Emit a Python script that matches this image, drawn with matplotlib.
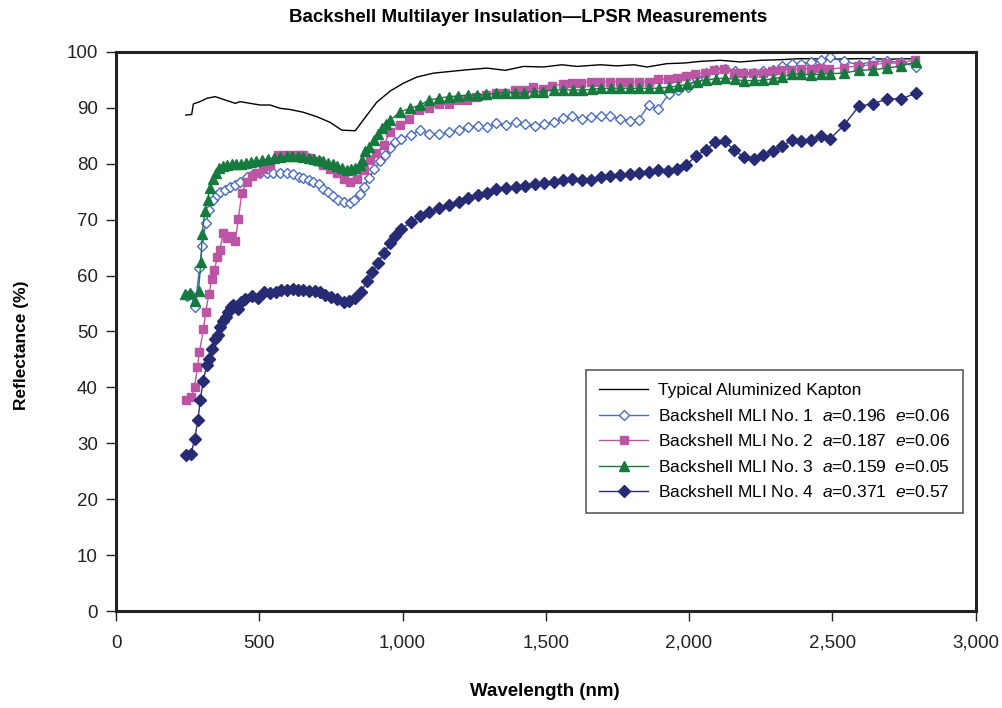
#!/usr/bin/env python
# -*- coding: utf-8 -*-
import matplotlib
matplotlib.use("Agg")
import matplotlib.pyplot as plt
from matplotlib.ticker import FuncFormatter

plt.rcParams['font.family'] = ['Liberation Sans Narrow', 'DejaVu Sans Condensed',
                               'Liberation Sans', 'DejaVu Sans']
plt.rcParams['mathtext.fontset'] = 'custom'
plt.rcParams['mathtext.it'] = 'Liberation Sans:italic'
plt.rcParams['mathtext.rm'] = 'Liberation Sans'

# Typical aluminized Kapton (black line)
kapton_wl = [244, 264, 270, 293, 317, 346, 375, 416, 433, 468, 503, 538, 573, 608,
             654, 701, 747, 788, 835, 876, 910, 957, 1003, 1050, 1108, 1166, 1225,
             1295, 1359, 1422, 1492, 1556, 1609, 1690, 1748, 1807, 1853, 1923, 1981,
             2040, 2109, 2179, 2249, 2319, 2389, 2500, 2600, 2700, 2792]
kapton_r = [88.7, 88.8, 90.7, 91.1, 91.7, 92.0, 91.5, 90.8, 91.1, 90.8, 90.5, 90.5,
            89.9, 89.7, 89.2, 88.4, 87.4, 86.0, 85.9, 88.7, 91.0, 93.0, 94.4, 95.5,
            96.2, 96.5, 96.8, 97.1, 96.7, 97.4, 97.3, 97.7, 97.4, 97.7, 97.5, 97.7,
            97.3, 97.9, 98.0, 98.3, 98.5, 98.2, 98.5, 98.6, 98.8, 98.7, 98.8, 98.7, 98.8]

# Backshell MLI No. 1 (blue open diamonds)
mli1_wl = [247, 258, 276, 291, 301, 313, 326, 338, 352, 363, 381, 398, 416, 433,
           456, 479, 503, 526, 549, 573, 596, 619, 637, 654, 672, 689, 707, 724,
           741, 759, 776, 794, 815, 832, 850, 866, 884, 901, 920, 939, 957, 974,
           994, 1029, 1062, 1094, 1129, 1162, 1196, 1228, 1262, 1295, 1327, 1361,
           1395, 1426, 1461, 1494, 1527, 1560, 1593, 1626, 1659, 1693, 1725, 1760,
           1793, 1825, 1859, 1892, 1929, 1962, 1995, 2028, 2060, 2094, 2127, 2159,
           2193, 2226, 2258, 2292, 2325, 2360, 2391, 2426, 2459, 2491, 2540, 2593,
           2641, 2692, 2741, 2792]
mli1_r = [56.4, 56.7, 54.4, 61.3, 65.2, 69.4, 71.7, 73.5, 74.4, 75.0, 75.3, 75.8,
          76.2, 76.8, 77.7, 78.1, 78.4, 78.4, 78.4, 78.4, 78.3, 78.1, 77.7, 77.4,
          77.1, 76.8, 76.3, 75.4, 75.0, 74.2, 73.6, 73.2, 72.9, 73.6, 74.6, 75.9,
          77.5, 79.0, 80.4, 81.6, 82.8, 83.8, 84.4, 85.2, 86.0, 85.4, 85.3, 85.6,
          86.0, 86.5, 86.8, 86.5, 87.2, 86.9, 87.4, 87.1, 86.8, 87.1, 87.4, 88.1,
          88.6, 88.0, 88.3, 88.6, 88.6, 88.0, 87.7, 87.9, 90.5, 89.7, 92.5, 93.1,
          93.8, 95.2, 96.2, 96.8, 97.0, 96.5, 96.3, 96.3, 96.5, 96.8, 97.4, 97.9,
          97.9, 98.2, 98.6, 99.0, 98.3, 97.7, 98.3, 98.3, 98.2, 97.3]

# Backshell MLI No. 2 (magenta squares)
mli2_wl = [244, 262, 274, 284, 291, 305, 313, 324, 334, 343, 354, 363, 373, 387,
           401, 416, 427, 439, 456, 474, 493, 514, 538, 567, 590, 614, 637, 654,
           678, 701, 724, 747, 771, 794, 817, 841, 864, 887, 908, 934, 957, 990,
           1024, 1056, 1091, 1126, 1161, 1192, 1225, 1257, 1292, 1326, 1359, 1391,
           1425, 1457, 1490, 1523, 1559, 1591, 1624, 1658, 1690, 1725, 1758, 1792,
           1826, 1859, 1892, 1925, 1958, 1990, 2022, 2055, 2088, 2121, 2156, 2189,
           2222, 2257, 2290, 2321, 2357, 2391, 2424, 2456, 2490, 2540, 2590, 2639,
           2689, 2738, 2789]
mli2_r = [37.7, 38.3, 40.0, 43.6, 46.3, 50.4, 53.5, 56.7, 59.3, 61.0, 63.3, 64.6,
          67.6, 66.7, 67.0, 66.1, 70.2, 74.7, 76.8, 77.8, 78.4, 79.0, 79.8, 81.6,
          81.6, 81.6, 81.6, 81.6, 81.0, 80.4, 79.8, 79.0, 78.3, 77.2, 76.8, 77.2,
          78.9, 80.6, 81.9, 83.3, 85.7, 86.9, 88.0, 89.6, 89.9, 90.6, 90.6, 91.4,
          91.4, 91.9, 92.3, 92.7, 92.7, 93.1, 93.1, 93.7, 93.3, 93.9, 94.3, 94.4,
          94.5, 94.7, 94.7, 94.7, 94.7, 94.7, 94.7, 94.7, 95.1, 95.1, 95.4, 95.6,
          96.0, 96.3, 96.7, 96.9, 96.3, 96.2, 96.2, 96.3, 96.6, 96.8, 96.8, 97.0,
          97.0, 97.2, 96.9, 97.2, 97.5, 97.7, 98.0, 98.0, 98.6]

# Backshell MLI No. 3 (green triangles)
mli3_wl = [241, 258, 276, 288, 296, 301, 310, 320, 328, 338, 349, 361, 375, 389,
           404, 420, 437, 455, 470, 490, 510, 530, 550, 573, 595, 615, 635, 654,
           672, 690, 707, 724, 741, 756, 771, 790, 806, 820, 835, 850, 858, 870,
           884, 899, 914, 928, 943, 957, 992, 1027, 1062, 1093, 1126, 1161, 1192,
           1227, 1260, 1292, 1326, 1359, 1393, 1425, 1460, 1492, 1527, 1559, 1594,
           1626, 1661, 1693, 1727, 1760, 1795, 1827, 1861, 1894, 1929, 1962, 1993,
           2028, 2060, 2094, 2127, 2159, 2193, 2226, 2258, 2292, 2325, 2360, 2391,
           2426, 2459, 2491, 2540, 2593, 2641, 2692, 2741, 2792]
mli3_r = [56.7, 56.8, 55.4, 57.3, 62.5, 67.4, 71.6, 73.6, 75.6, 77.2, 78.4, 79.2,
          79.6, 79.8, 79.9, 80.0, 80.0, 80.2, 80.3, 80.5, 80.6, 80.8, 81.0, 81.2,
          81.3, 81.3, 81.3, 81.2, 81.0, 80.8, 80.6, 80.4, 80.1, 79.9, 79.6, 79.2,
          78.9, 79.0, 79.3, 79.8, 80.6, 82.2, 83.0, 84.3, 85.3, 86.3, 87.1, 87.8,
          89.3, 89.9, 90.5, 91.4, 91.7, 92.0, 92.1, 92.3, 92.3, 92.4, 92.6, 92.7,
          92.7, 92.7, 92.9, 92.9, 93.2, 93.2, 93.2, 93.2, 93.3, 93.5, 93.5, 93.5,
          93.5, 93.5, 93.5, 93.5, 93.7, 93.9, 94.2, 94.7, 95.0, 95.2, 95.3, 95.1,
          94.8, 94.9, 94.9, 95.2, 95.5, 96.0, 96.0, 95.9, 96.0, 96.1, 96.2, 96.7,
          96.8, 97.1, 97.5, 98.2]

# Backshell MLI No. 4 (navy diamonds)
mli4_wl = [243, 262, 274, 286, 294, 304, 317, 324, 334, 347, 355, 363, 375, 383,
           392, 402, 410, 425, 437, 451, 474, 497, 518, 538, 559, 576, 596, 616,
           635, 654, 673, 693, 712, 731, 751, 771, 794, 814, 835, 855, 876, 895,
           914, 935, 957, 974, 994, 1029, 1062, 1094, 1129, 1162, 1196, 1228, 1262,
           1295, 1327, 1361, 1395, 1426, 1461, 1494, 1527, 1560, 1593, 1626, 1659,
           1693, 1725, 1760, 1793, 1825, 1859, 1892, 1925, 1958, 1991, 2024, 2059,
           2092, 2124, 2158, 2191, 2225, 2258, 2292, 2326, 2360, 2391, 2425, 2459,
           2491, 2541, 2593, 2641, 2692, 2741, 2792]
mli4_r = [27.9, 28.1, 30.7, 34.2, 37.7, 41.1, 44.0, 45.0, 46.9, 48.7, 49.4, 50.8,
          51.9, 52.5, 53.4, 54.3, 54.7, 54.0, 55.3, 55.8, 56.4, 56.0, 57.1, 56.9,
          57.1, 57.4, 57.4, 57.6, 57.5, 57.4, 57.2, 57.3, 57.0, 56.6, 56.2, 55.8,
          55.2, 55.5, 55.9, 57.0, 59.0, 60.6, 62.2, 64.0, 65.8, 67.1, 68.3, 69.5,
          70.6, 71.3, 72.0, 72.6, 73.2, 73.8, 74.4, 74.8, 75.4, 75.7, 75.9, 76.1,
          76.3, 76.5, 76.8, 77.0, 77.3, 77.1, 77.0, 77.6, 77.8, 77.9, 78.1, 78.4,
          78.6, 78.8, 78.7, 79.1, 79.8, 81.4, 82.5, 83.8, 84.0, 82.4, 81.2, 80.9,
          81.5, 82.3, 83.1, 84.3, 84.1, 84.3, 84.9, 84.4, 86.9, 90.3, 90.7, 91.6,
          91.6, 92.6]

labels = ["Typical Aluminized Kapton",
          r"Backshell MLI No. 1  $a$=0.196  $e$=0.06",
          r"Backshell MLI No. 2  $a$=0.187  $e$=0.06",
          r"Backshell MLI No. 3  $a$=0.159  $e$=0.05",
          r"Backshell MLI No. 4  $a$=0.371  $e$=0.57"]

fig = plt.figure(figsize=(10.02, 7.08), dpi=100, facecolor="white")
ax = fig.add_axes([0.1158, 0.137, 0.8578, 0.7897])

ax.plot(kapton_wl, kapton_r, color='black', linewidth=1.0, label=labels[0])
ax.plot(mli1_wl, mli1_r, color='#4A6CC0', linewidth=1.0, marker='D', markersize=5.5,
        markerfacecolor='white', markeredgecolor='#4A6CC0', markeredgewidth=1.0,
        label=labels[1])
ax.plot(mli2_wl, mli2_r, color='#BC55A4', linewidth=1.0, marker='s', markersize=6,
        markeredgecolor='#BC55A4', label=labels[2])
ax.plot(mli3_wl, mli3_r, color='#167A3E', linewidth=1.0, marker='^', markersize=7.5,
        markeredgecolor='#167A3E', label=labels[3])
ax.plot(mli4_wl, mli4_r, color='#272B74', linewidth=1.0, marker='D', markersize=6.5,
        markeredgecolor='#272B74', label=labels[4])

ax.set_xlim(0, 3000)
ax.set_ylim(0, 100)
ax.set_xticks(range(0, 3001, 500))
ax.set_yticks(range(0, 101, 10))
ax.xaxis.set_major_formatter(FuncFormatter(lambda v, p: "{:,}".format(int(v))))
ax.tick_params(direction='out', length=7, width=1, labelsize=13.5, colors='#222222')
ax.tick_params(axis='x', pad=10)
ax.tick_params(axis='y', pad=6)
for s in ax.spines.values():
    s.set_linewidth(2.2)
    s.set_color('#222222')

fig.text(528 / 1002, 1 - 18 / 708, "Backshell Multilayer Insulation\u2014LPSR Measurements",
         fontsize=13.5, fontweight='bold', ha='center', va='center')
fig.text(545 / 1002, 1 - 692 / 708, "Wavelength (nm)",
         fontsize=13.5, fontweight='bold', ha='center', va='center')
fig.text(22 / 1002, 1 - 345 / 708, "Reflectance (%)", rotation=90,
         fontsize=12.5, fontweight='bold', ha='center', va='center')

leg = ax.legend(loc='upper left', bbox_to_anchor=(0.547, 0.431), fontsize=12.5,
                frameon=True, fancybox=False, edgecolor='#333333',
                handlelength=2.8, handletextpad=0.6, labelspacing=0.55,
                borderpad=0.75, borderaxespad=0)
leg.get_frame().set_linewidth(1.2)

fig.savefig("out.png", dpi=100, facecolor="white")
